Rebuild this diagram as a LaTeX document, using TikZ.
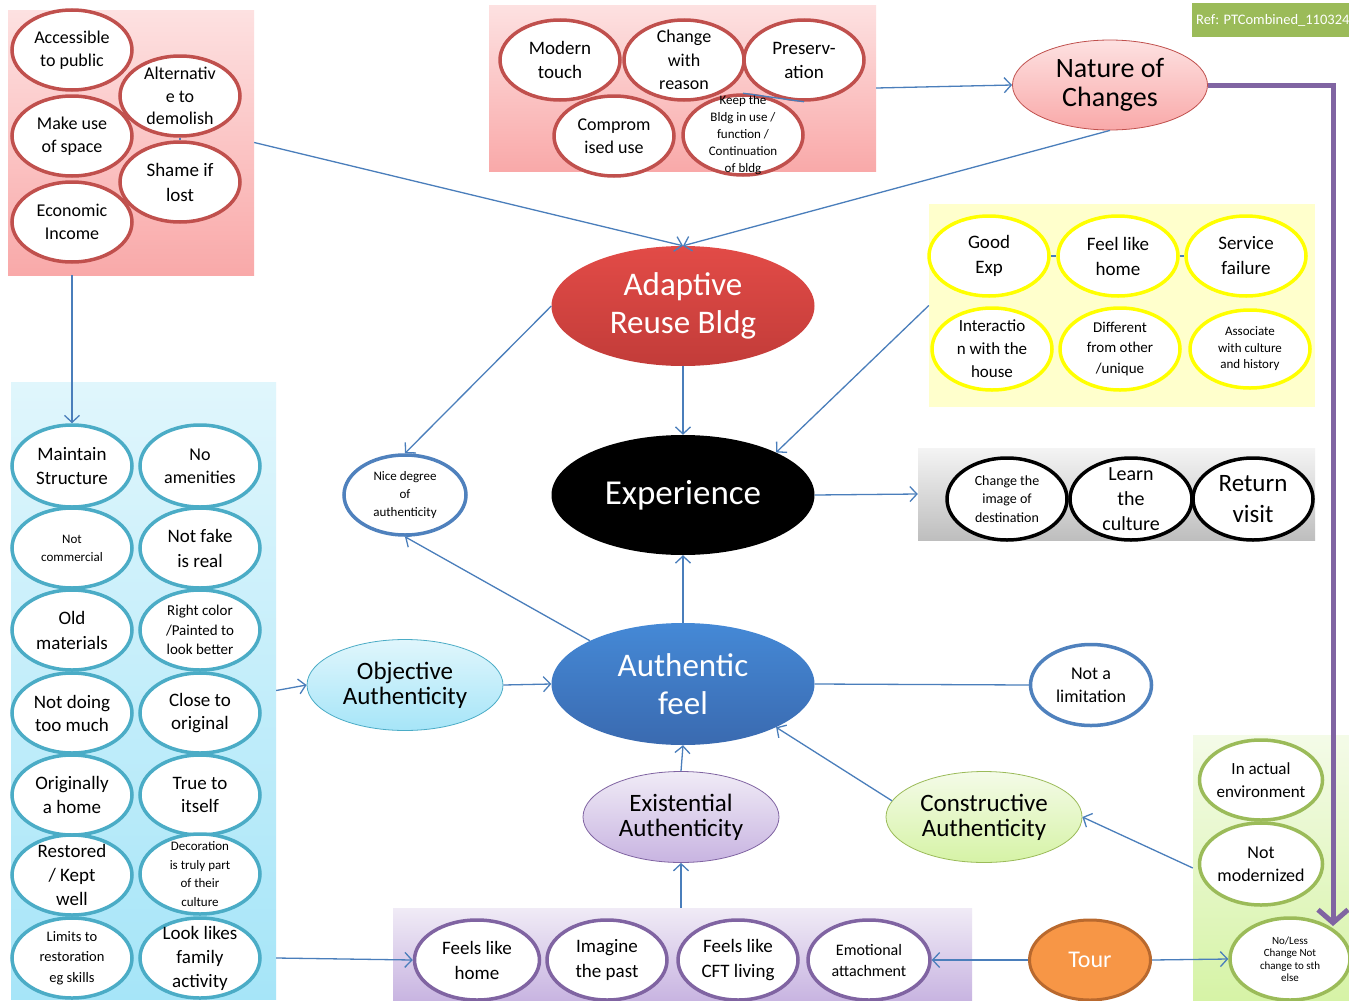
\documentclass[tikz,border=0pt]{standalone}
\usepackage{fontspec}
\setmainfont{Carlito}
\usetikzlibrary{shapes.geometric,arrows.meta}
\newcommand\fsz[2]{\fontsize{#1}{#2}\selectfont}

\definecolor{rline}{HTML}{C0504D}
\definecolor{yline}{HTML}{FFFF00}
\definecolor{cline}{HTML}{4BACC6}
\definecolor{pline}{HTML}{8064A2}
\definecolor{gline}{HTML}{9BBB59}
\definecolor{bline}{HTML}{4F81BD}
\definecolor{conblue}{HTML}{4A7EBB}
\definecolor{pinkT}{HTML}{FDE1E1}
\definecolor{pinkB}{HTML}{F9A9A9}
\definecolor{cyanT}{HTML}{E0F6FC}
\definecolor{cyanB}{HTML}{A6E5F8}
\definecolor{purT}{HTML}{F0EBF6}
\definecolor{purB}{HTML}{C8B4E1}
\definecolor{grnT}{HTML}{F4FBE8}
\definecolor{grnB}{HTML}{D6F3A6}
\definecolor{greyT}{HTML}{F4F4F4}
\definecolor{greyB}{HTML}{BEBEBE}
\definecolor{yfill}{HTML}{FFFFCC}
\definecolor{adaptT}{HTML}{E24B47}
\definecolor{adaptB}{HTML}{C23C39}
\definecolor{authT}{HTML}{4589D6}
\definecolor{authB}{HTML}{3A6AB0}
\definecolor{tourfill}{HTML}{F79646}
\definecolor{tourline}{HTML}{B9692E}

\tikzset{
  panel/.style={rectangle, draw=none, inner sep=0pt},
  bub/.style={ellipse, fill=white, line width=3.5pt, minimum width=120pt,
    minimum height=80pt, inner sep=-30pt, align=center, font=\fsz{18}{23}},
  redb/.style={bub, draw=rline},
  yelb/.style={bub, draw=yline},
  blkb/.style={bub, draw=black},
  cyab/.style={bub, draw=cline},
  purb/.style={bub, draw=pline},
  grnb/.style={bub, draw=gline},
  blub/.style={bub, draw=bline},
  hub/.style={ellipse, inner sep=-30pt, align=center, text=white,
    minimum width=263pt, minimum height=120pt, font=\fsz{33}{38}},
  theme/.style={ellipse, inner sep=-30pt, align=center, line width=0.8pt,
    minimum width=196pt, minimum height=91pt, font=\fsz{25}{25}},
  conn/.style={draw=conblue, line width=1.3pt,
    -{Straight Barb[length=7pt,width=15pt]}},
  plain/.style={draw=conblue, line width=1.3pt},
}

\begin{document}
\begin{tikzpicture}[x=1pt,y=-1pt]
\useasboundingbox (0,0) rectangle (1349,1001);
\fill[white] (0,0) rectangle (1349,1001);

% ---------- coloured panels ----------
\node[panel, top color=pinkT, bottom color=pinkB, minimum width=246pt, minimum height=265pt] (tlbox) at (131,142.5) {};
\node[panel, top color=pinkT, bottom color=pinkB, minimum width=387pt, minimum height=166pt] (tmbox) at (682.5,88) {};
\node[panel, fill=yfill, minimum width=386pt, minimum height=203pt] (ybox) at (1122,305.5) {};
\node[panel, top color=greyT, bottom color=greyB, minimum width=397pt, minimum height=92pt] (gbox) at (1116.5,494) {};
\node[panel, top color=cyanT, bottom color=cyanB, minimum width=265pt, minimum height=617pt] (lbox) at (143.5,690.5) {};
\node[panel, top color=purT, bottom color=purB, minimum width=579pt, minimum height=93pt] (pbox) at (682.5,954.5) {};
\node[panel, top color=grnT, bottom color=grnB, minimum width=156pt, minimum height=266pt] (rbox) at (1271,868) {};
\node[panel, fill=gline, minimum width=157pt, minimum height=34pt] (refbox) at (1270.5,20) {};
\node[anchor=west, text=white, inner sep=0pt, font=\fsz{14.5}{16}] (reftxt) at (1196,20) {Ref: PTCombined\_110324};

% ---------- reasons for reuse ----------
\node[redb] (acc) at (72,50) {Accessible\\to public};
\node[redb, font=\fsz{18}{22.5}] (alt) at (180,96) {Alternativ\\e to\\demolish};
\node[redb] (mus) at (72,136) {Make use\\of space};
\node[redb, font=\fsz{19}{25}] (shame) at (180,182) {Shame if\\lost};
\node[redb] (eco) at (72,222) {Economic\\Income};

% ---------- kinds of change ----------
\node[redb, font=\fsz{19}{24}] (modern) at (560,60) {Modern\\touch};
\node[redb, font=\fsz{18}{23.5}] (chg) at (684,60) {Change\\with\\reason};
\node[redb, font=\fsz{19}{24}] (pres) at (804,60) {Preserv-\\ation};
\node[redb] (comp) at (614,136) {Comprom\\ised use};
\node[redb, font=\fsz{13}{17}] (keep) at (743,135) {Keep the\\Bldg in use /\\function /\\Continuation\\of bldg};

\node[ellipse, inner sep=-30pt, align=center, draw=rline, line width=0.8pt,
  top color=pinkT, bottom color=pinkB, minimum width=195pt, minimum height=90pt,
  font=\fsz{28}{29}] (nature) at (1110,85) {Nature of\\Changes};

% ---------- experience qualities ----------
\node[yelb, font=\fsz{19}{25}] (gexp) at (989,256) {Good\\Exp};
\node[yelb, font=\fsz{19}{25}] (flh) at (1118,256) {Feel like\\home};
\node[yelb, font=\fsz{19}{25}] (svc) at (1246,256) {Service\\failure};
\node[yelb, minimum height=82pt, font=\fsz{17}{23}] (inter) at (992,349) {Interactio\\n with the\\house};
\node[yelb, minimum height=82pt, font=\fsz{15}{20.5}] (diff) at (1120,349) {Different\\from other\\/unique};
\node[yelb, minimum height=78pt, font=\fsz{13}{16.5}] (assoc) at (1250,349) {Associate\\with culture\\and history};

% ---------- outcomes ----------
\node[blkb, minimum height=82pt, font=\fsz{14}{18.5}] (cimg) at (1007,499) {Change the\\image of\\destination};
\node[blkb, minimum width=122pt, minimum height=82pt, font=\fsz{20}{25}] (learn) at (1131,499) {Learn\\the\\culture};
\node[blkb, minimum height=82pt, font=\fsz{25}{31}] (ret) at (1253,499) {Return\\visit};

% ---------- central chain ----------
\node[hub, top color=adaptT, bottom color=adaptB] (adapt) at (683,306) {Adaptive\\Reuse Bldg};
\node[hub, fill=black, font=\fsz{35}{38}] (exper) at (683,495) {Experience};
\node[hub, top color=authT, bottom color=authB, minimum height=122pt] (auth) at (683,684) {Authentic\\feel};

\node[blub, minimum width=122pt, font=\fsz{13}{18}] (nice) at (405,495) {Nice degree\\of\\authenticity};
\node[blub, minimum width=121pt, minimum height=81pt] (notlim) at (1091,685) {Not a\\limitation};

\node[theme, draw=cline, top color=cyanT, bottom color=cyanB] (obj) at (405,685) {Objective\\Authenticity};
\node[theme, draw=pline, top color=purT, bottom color=purB] (exist) at (681,817) {Existential\\Authenticity};
\node[theme, draw=gline, top color=grnT, bottom color=grnB] (constr) at (984,817) {Constructive\\Authenticity};

% ---------- objective attributes ----------
\node[cyab, minimum height=82pt, font=\fsz{19}{24}] (mstruct) at (72,466) {Maintain\\Structure};
\node[cyab, minimum height=82pt] (noam) at (200,466) {No\\amenities};
\node[cyab, font=\fsz{13}{18}] (ncomm) at (72,548) {Not\\commercial};
\node[cyab, font=\fsz{19}{25}] (nfake) at (200,548) {Not fake\\is real};
\node[cyab, font=\fsz{19}{25}] (oldm) at (72,630) {Old\\materials};
\node[cyab, font=\fsz{15}{19.5}] (rcol) at (200,630) {Right color\\/Painted to\\look better};
\node[cyab, font=\fsz{19}{23}] (ndoing) at (72,713) {Not doing\\too much};
\node[cyab, font=\fsz{19}{23}] (close) at (200,713) {Close to\\original};
\node[cyab, font=\fsz{19}{23.5}] (orig) at (72,795) {Originally\\a home};
\node[cyab, font=\fsz{19}{23.5}] (true) at (200,795) {True to\\itself};
\node[cyab, font=\fsz{19}{24}] (rest) at (72,875) {Restored\\/ Kept\\well};
\node[cyab, font=\fsz{13}{18.5}] (decor) at (200,874) {Decoration\\is truly part\\of their\\culture};
\node[cyab, font=\fsz{14.5}{20.5}] (limits) at (72,958) {Limits to\\restoration\\eg skills};
\node[cyab, font=\fsz{19}{24}] (lookl) at (200,958) {Look likes\\family\\activity};

% ---------- existential attributes ----------
\node[purb, minimum width=125pt, font=\fsz{19}{25}] (fhome) at (477,960) {Feels like\\home};
\node[purb, font=\fsz{19}{25}] (imag) at (607,960) {Imagine\\the past};
\node[purb, font=\fsz{19}{25}] (cft) at (738,960) {Feels like\\CFT living};
\node[purb, minimum width=122pt, font=\fsz{16}{21}] (emot) at (869,960) {Emotional\\attachment};

\node[ellipse, fill=tourfill, draw=tourline, line width=3pt, minimum width=121pt,
  minimum height=80pt, inner sep=-30pt, text=white, font=\fsz{24}{26}] (tour) at (1090,960) {Tour};

% ---------- constructive attributes ----------
\node[grnb, minimum width=123pt, font=\fsz{17}{23}] (inact) at (1261,780) {In actual\\environment};
\node[grnb, minimum width=123pt, minimum height=82pt] (notmod) at (1261,864) {Not\\modernized};
\node[grnb, minimum height=82pt, font=\fsz{11}{12.5}] (noless) at (1290,959) {No/Less\\Change Not\\change to sth\\else};

% ---------- connectors ----------
\draw[conn] (tlbox.east) -- (adapt.north);
\draw[conn] (nature.south) -- (adapt.north);
\draw[conn] (tmbox.east) -- (nature.west);
\draw[conn] (mstruct |- tlbox.south) -- (mstruct.north);
\draw[conn] (adapt.south) -- (exper.north);
\draw[conn] (adapt.west) -- (nice.north);
\draw[conn] (ybox.west) -- (exper.north east);
\draw[conn] (exper.east) -- (gbox.west);
\draw[conn] (auth.north) -- (exper.south);
\draw[conn] (auth.north west) -- (nice.south);
\draw[conn] (obj.east) -- (auth.west);
\draw[conn] (lbox.east) -- (obj.west);
\draw[conn] (exist.north) -- (auth.south);
\draw[conn] (constr.170) -- (auth.south east);
\draw[plain] (auth.east) -- (notlim.west);
\draw[conn] (exist |- pbox.north) -- (exist.south);
\draw[conn] (lbox.east |- lookl.east) -- (fhome.west);
\draw[conn] (tour.west) -- (emot.east);
\draw[conn] (tour.east) -- (noless.west);
\draw[conn] (rbox.west) -- (constr.east);

% short links between neighbouring bubbles
\draw[plain] (keep.north) -- (pres.south);
\draw[plain] (gexp.east) -- (flh.west);
\draw[plain] (flh.east) -- (svc.west);
\draw[plain] (alt.south) -- (shame.north);

% change-nature path down to the constructive bubble
\coordinate (ptip) at (1333,926);
\draw[draw=pline, line width=5pt, -{Straight Barb[length=13pt,width=30pt]}] (nature.east) -| (ptip);
\end{tikzpicture}
\end{document}
